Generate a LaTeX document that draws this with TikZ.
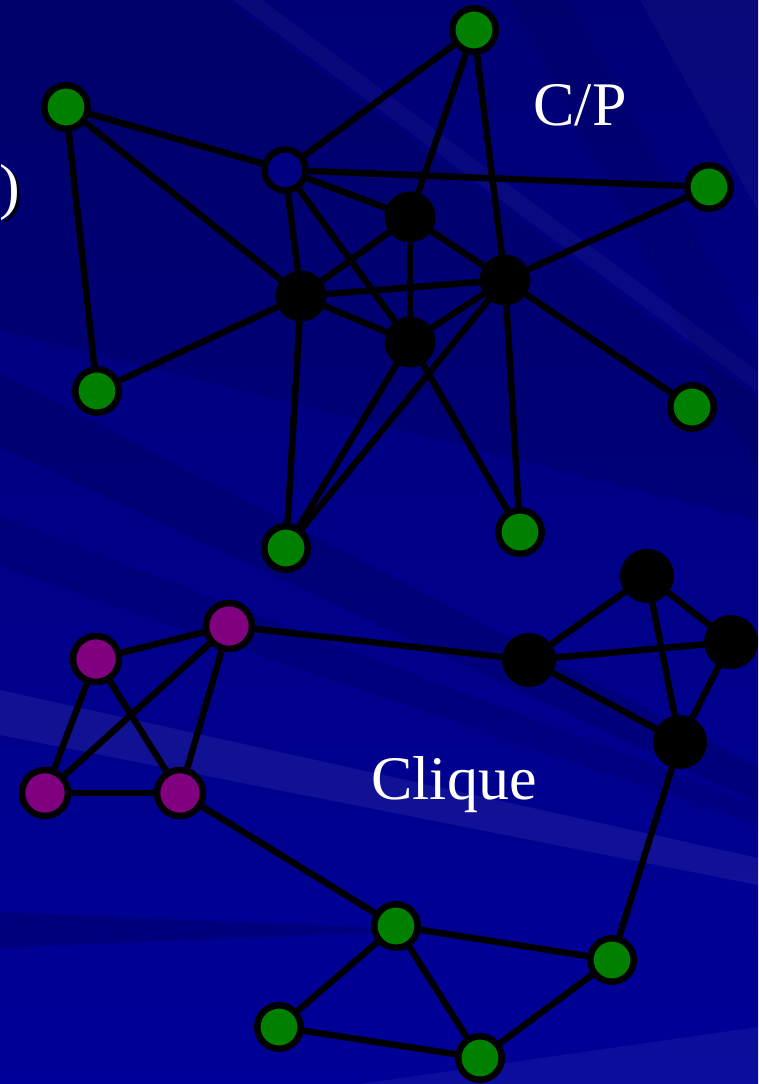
\documentclass[tikz,border=0pt]{standalone}
\usepackage{fontspec}
\setmainfont{Liberation Serif}
\definecolor{bgtop}{RGB}{0,0,118}
\definecolor{bgmid}{RGB}{0,0,140}
\definecolor{bgbot}{RGB}{0,0,152}
\definecolor{ngreen}{RGB}{0,128,0}
\definecolor{nmagenta}{RGB}{128,0,128}
\definecolor{hollowfill}{RGB}{0,0,128}
\begin{document}
\begin{tikzpicture}[x=1pt,y=-1pt,
  edge/.style={line width=6.5pt, draw=black},
  gnode/.style={circle, draw=black, line width=6.5pt, fill=ngreen, minimum size=43.5pt, inner sep=0pt},
  pnode/.style={circle, draw=black, line width=6.5pt, fill=nmagenta, minimum size=46pt, inner sep=0pt},
  bnode/.style={circle, draw=black, line width=4pt, fill=black, minimum size=47pt, inner sep=0pt},
  kbnode/.style={bnode, minimum size=50pt},
  hnode/.style={circle, draw=black, line width=6.5pt, fill=hollowfill, minimum size=41pt, inner sep=0pt},
  label/.style={text=white, font=\fontsize{62}{70}\selectfont, inner sep=0pt},
  darkband/.style={fill=black, opacity=#1},
  lightband/.style={fill=white, opacity=#1}]

% background: navy gradient crossed by faint light and dark rays
\clip (0,0) rectangle (758,1084);
\shade[top color=bgtop, middle color=bgmid, bottom color=bgbot] (0,0) rectangle (758,1084);
\fill[darkband=0.10] (0,0) -- (225,0) -- (758,400) -- (758,520) -- (0,330) -- cycle;
\fill[lightband=0.035] (233,0) -- (262,0) -- (758,372) -- (758,392) -- cycle;
\fill[darkband=0.07] (510,0) -- (570,0) -- (758,350) -- (758,470) -- cycle;
\fill[lightband=0.035] (640,0) -- (758,0) -- (758,210) -- cycle;
\fill[darkband=0.12] (0,373) -- (758,767) -- (758,803) -- (0,447) -- cycle;
\fill[darkband=0.09] (0,517) -- (758,805) -- (758,825) -- (0,567) -- cycle;
\fill[lightband=0.065] (0,690) -- (758,858) -- (758,885) -- (0,735) -- cycle;
\fill[darkband=0.15] (0,912) -- (430,930) -- (0,948) -- cycle;
\fill[lightband=0.05] (758,1027) -- (360,1084) -- (758,1084) -- cycle;

% cut-off caption on the left edge, with its drop shadow
\node[label, text=black, opacity=0.8, anchor=base east] (capshadow) at (23,210) {e)};
\node[label, anchor=base east] (cap) at (20,207) {e)};

% upper network: core/periphery
\node[gnode] (g1) at (474,30) {};
\node[gnode] (g2) at (66,107) {};
\node[hnode] (w)  at (285,170) {};
\node[gnode] (g3) at (709,187) {};
\node[bnode] (b1) at (410,217) {};
\node[bnode] (b2) at (301,296) {};
\node[bnode] (b3) at (505,280) {};
\node[bnode] (b4) at (410,342) {};
\node[gnode] (g4) at (97,391) {};
\node[gnode] (g5) at (692,407) {};
\node[gnode] (g6) at (286,548) {};
\node[gnode] (g7) at (520,532) {};

\foreach \a/\b in {g2/w, g2/b2, g2/g4, w/g1, w/g3, w/b1, w/b2, w/b4,
                   g1/b1, g1/b3, g3/b3, b1/b2, b1/b3, b1/b4, b2/b3, b2/b4,
                   b2/g4, b2/g6, b3/b4, b3/g5, b3/g7, b3/g6, b4/g6, b4/g7}
  \draw[edge] (\a) -- (\b);

% lower network: cliques joined by bridges
\node[pnode] (p1) at (96,659) {};
\node[pnode] (p2) at (229,626) {};
\node[pnode] (p3) at (45,793) {};
\node[pnode] (p4) at (180,793) {};
\node[kbnode] (k1) at (529,660) {};
\node[kbnode] (k2) at (647,576) {};
\node[kbnode] (k3) at (731,642) {};
\node[kbnode] (k4) at (680,742) {};
\node[gnode] (ga) at (396,926) {};
\node[gnode] (gb) at (612,960) {};
\node[gnode] (gc) at (279,1027) {};
\node[gnode] (gd) at (480,1058) {};

\foreach \a/\b in {p1/p2, p1/p3, p1/p4, p2/p3, p2/p4, p3/p4, p2/k1,
                   k1/k2, k1/k3, k1/k4, k2/k3, k2/k4, k3/k4, p4/ga, k4/gb,
                   ga/gb, ga/gc, ga/gd, gc/gd, gd/gb}
  \draw[edge] (\a) -- (\b);

\node[label, anchor=base] (cp) at (580,125) {C/P};
\node[label, anchor=base] (clique) at (454,799) {Clique};
\end{tikzpicture}
\end{document}
